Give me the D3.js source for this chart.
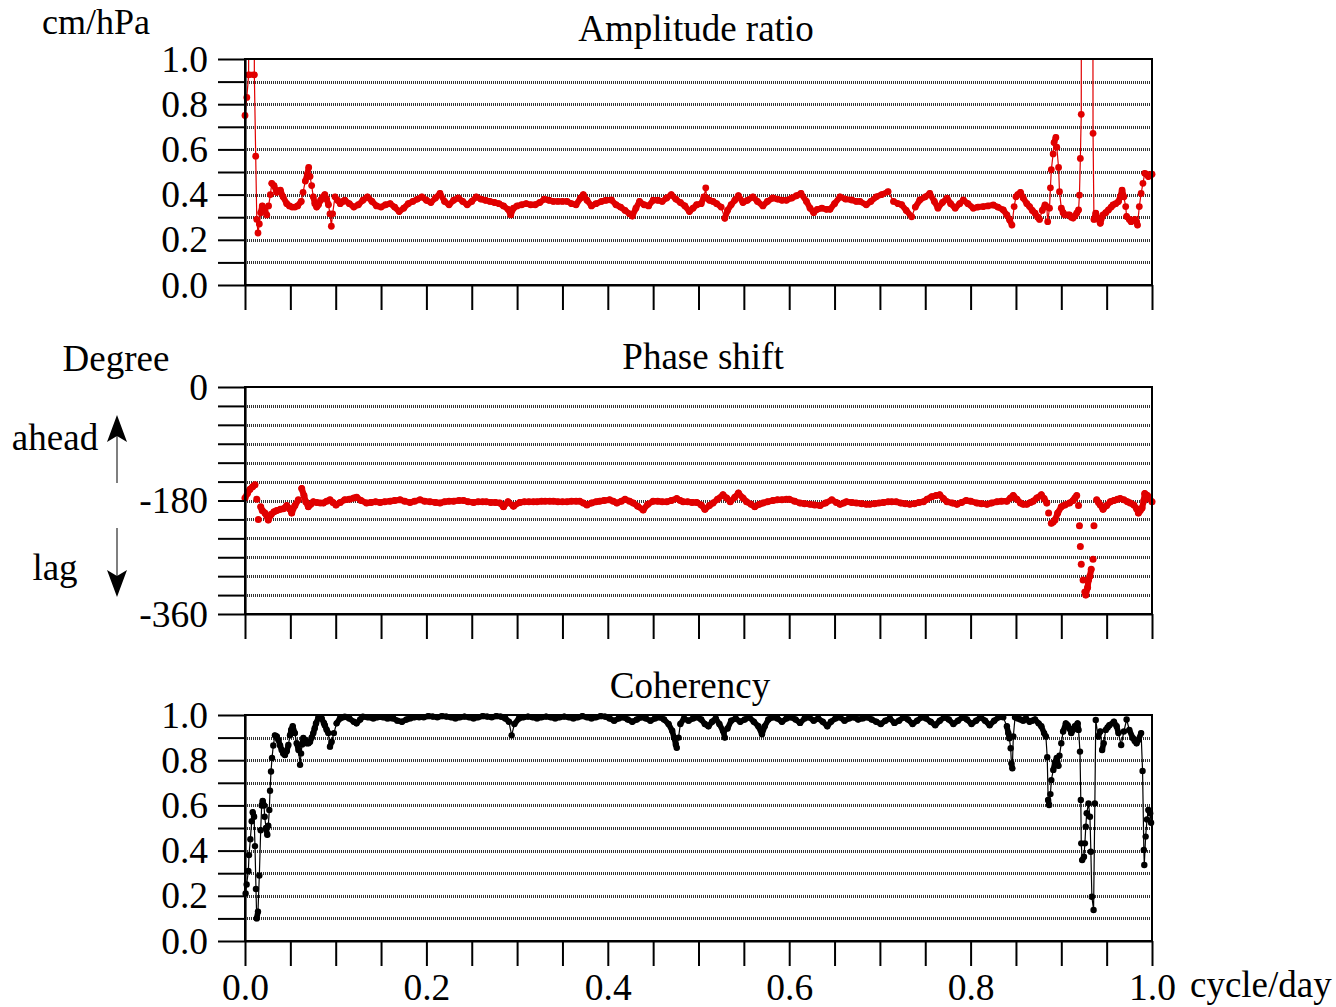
<!DOCTYPE html>
<html><head><meta charset="utf-8">
<script src="https://cdn.jsdelivr.net/npm/d3@7"></script>
<style>
body{margin:0;background:#fff}
svg{display:block}
text{font-family:"Liberation Serif","Times New Roman",Times,serif;fill:#000}
</style>
</head><body>
<svg id="chart" width="1336" height="1007"></svg>
<script>
// ---------- tick values / labels ----------
const freqTicks = [0,0.05,0.1,0.15,0.2,0.25,0.3,0.35,0.4,0.45,0.5,0.55,0.6,0.65,0.7,0.75,0.8,0.85,0.9,0.95,1.0];
const freqTickLabels = ["0.0","","","","0.2","","","","0.4","","","","0.6","","","","0.8","","","","1.0"];
const ampTicks = [0,0.1,0.2,0.3,0.4,0.5,0.6,0.7,0.8,0.9,1.0];
const ampTickLabels = ["0.0","","0.2","","0.4","","0.6","","0.8","","1.0"];
const phaseTicks = [0,-30,-60,-90,-120,-150,-180,-210,-240,-270,-300,-330,-360];
const phaseTickLabels = ["0","","","","","","-180","","","","","","-360"];
const cohTicks = [0,0.1,0.2,0.3,0.4,0.5,0.6,0.7,0.8,0.9,1.0];
const cohTickLabels = ["0.0","","0.2","","0.4","","0.6","","0.8","","1.0"];

// ---------- series: [frequency (cycle/day), value] ----------
const amplitude = [
[0,0.75],[0.002,0.83],[0.004,0.93],[0.0045,4],[0.0098,4],[0.0103,0.93],[0.0118,0.57],[0.013,0.29],[0.0143,0.23],[0.0158,0.27],
[0.0173,0.32],[0.019,0.35],[0.021,0.34],[0.024,0.31],[0.026,0.35],[0.028,0.40],[0.0295,0.45],[0.032,0.44],[0.035,0.41],[0.039,0.42],
[0.042,0.39],[0.046,0.36],[0.049,0.35],[0.052,0.345],[0.055,0.345],[0.058,0.35],[0.062,0.37],[0.064,0.41],[0.0665,0.46],[0.0687,0.49],
[0.0702,0.52],[0.0717,0.48],[0.0735,0.44],[0.0753,0.39],[0.077,0.36],[0.079,0.345],[0.081,0.355],[0.0834,0.375],[0.086,0.39],[0.088,0.40],
[0.090,0.38],[0.092,0.355],[0.0937,0.315],[0.0952,0.26],[0.0966,0.315],[0.0992,0.39],[0.102,0.375],[0.105,0.36],[0.108,0.37],[0.110,0.375],
[0.115,0.36],[0.120,0.345],[0.125,0.355],[0.130,0.375],[0.135,0.39],[0.140,0.37],[0.145,0.35],[0.150,0.345],[0.155,0.355],[0.160,0.36],
[0.165,0.345],[0.170,0.325],[0.175,0.34],[0.180,0.36],[0.185,0.37],[0.190,0.38],[0.195,0.39],[0.200,0.375],[0.205,0.365],[0.210,0.385],
[0.215,0.405],[0.220,0.37],[0.225,0.355],[0.230,0.375],[0.235,0.385],[0.240,0.37],[0.245,0.355],[0.250,0.37],[0.255,0.39],[0.260,0.38],
[0.265,0.375],[0.270,0.37],[0.275,0.365],[0.280,0.36],[0.285,0.35],[0.290,0.335],[0.293,0.31],[0.296,0.34],[0.300,0.35],[0.305,0.355],
[0.310,0.36],[0.315,0.355],[0.320,0.355],[0.325,0.365],[0.330,0.38],[0.335,0.375],[0.340,0.37],[0.345,0.37],[0.350,0.37],[0.355,0.37],
[0.360,0.36],[0.365,0.355],[0.370,0.385],[0.373,0.40],[0.377,0.375],[0.382,0.35],[0.387,0.36],[0.393,0.37],[0.398,0.375],[0.404,0.376],
[0.409,0.355],[0.414,0.345],[0.419,0.33],[0.424,0.315],[0.427,0.305],[0.431,0.34],[0.435,0.37],[0.440,0.355],[0.445,0.35],[0.450,0.375],
[0.455,0.375],[0.460,0.37],[0.465,0.385],[0.470,0.40],[0.475,0.38],[0.480,0.365],[0.485,0.35],[0.490,0.325],[0.494,0.34],[0.498,0.355],
[0.503,0.36],[0.506,0.39],[0.508,0.43],[0.509,0.385],[0.512,0.375],[0.516,0.37],[0.520,0.36],[0.525,0.345],[0.529,0.295],[0.532,0.33],
[0.536,0.355],[0.540,0.375],[0.544,0.395],[0.549,0.365],[0.554,0.375],[0.560,0.39],[0.565,0.37],[0.571,0.35],[0.576,0.37],[0.582,0.385],
[0.587,0.38],[0.592,0.375],[0.597,0.375],[0.603,0.385],[0.608,0.395],[0.613,0.405],[0.619,0.37],[0.623,0.34],[0.627,0.32],[0.631,0.335],
[0.636,0.34],[0.641,0.335],[0.645,0.335],[0.650,0.36],[0.656,0.39],[0.662,0.38],[0.669,0.376],[0.674,0.37],[0.678,0.37],[0.685,0.355],
[0.690,0.37],[0.696,0.39],[0.702,0.40],[0.709,0.413],[0.715,0.37],[0.720,0.36],[0.724,0.355],[0.729,0.33],[0.735,0.302],[0.739,0.345],
[0.744,0.376],[0.750,0.39],[0.755,0.405],[0.760,0.37],[0.764,0.34],[0.769,0.365],[0.774,0.384],[0.778,0.36],[0.783,0.34],[0.788,0.36],
[0.792,0.376],[0.797,0.36],[0.803,0.34],[0.808,0.345],[0.814,0.347],[0.819,0.35],[0.825,0.354],[0.830,0.345],[0.836,0.332],[0.840,0.31],
[0.843,0.288],[0.8456,0.265],[0.848,0.347],[0.850,0.39],[0.852,0.40],[0.855,0.41],[0.858,0.385],[0.862,0.36],[0.865,0.347],[0.868,0.33],
[0.871,0.318],[0.874,0.30],[0.876,0.29],[0.879,0.33],[0.882,0.354],[0.884,0.347],[0.885,0.28],[0.887,0.34],[0.888,0.43],[0.889,0.51],
[0.891,0.58],[0.892,0.63],[0.894,0.653],[0.895,0.61],[0.897,0.52],[0.898,0.413],[0.900,0.34],[0.902,0.32],[0.904,0.31],[0.907,0.31],
[0.909,0.31],[0.911,0.30],[0.913,0.296],[0.915,0.305],[0.917,0.318],[0.919,0.332],[0.920,0.398],[0.921,0.56],[0.922,0.755],[0.9226,4],
[0.934,4],[0.935,0.671],[0.936,0.29],[0.938,0.318],[0.940,0.296],[0.943,0.273],[0.946,0.31],[0.949,0.32],[0.952,0.332],[0.955,0.345],
[0.957,0.354],[0.960,0.36],[0.963,0.369],[0.965,0.39],[0.967,0.42],[0.969,0.39],[0.971,0.347],[0.972,0.303],[0.975,0.29],[0.977,0.28],
[0.979,0.285],[0.981,0.29],[0.983,0.28],[0.984,0.265],[0.986,0.347],[0.988,0.405],[0.990,0.45],[0.992,0.494],[0.994,0.49],[0.996,0.48],
[0.998,0.485],[1.000,0.49]
];

const phase = [
[0,-176],[0.0026,-169],[0.0055,-162],[0.0085,-158],[0.011,-155],[0.013,-178],[0.0147,-210],[0.0173,-190],[0.019,-196],[0.022,-200],
[0.0257,-211],[0.029,-202],[0.032,-198],[0.035,-196],[0.039,-194],[0.0423,-193],[0.046,-188],[0.049,-193],[0.0515,-200],[0.055,-188],
[0.0588,-179],[0.0625,-161],[0.065,-172],[0.067,-182],[0.0698,-190],[0.0725,-186],[0.0753,-182],[0.079,-183],[0.083,-184],[0.0864,-184],
[0.090,-181],[0.0937,-179],[0.097,-183],[0.1003,-187],[0.105,-183],[0.110,-179],[0.115,-178],[0.120,-176],[0.1231,-175],[0.128,-180],
[0.134,-184],[0.139,-183],[0.144,-182],[0.149,-183],[0.154,-182],[0.160,-181],[0.165,-180],[0.171,-179],[0.176,-181],[0.182,-183],
[0.187,-181],[0.193,-179],[0.198,-181],[0.204,-182],[0.210,-183],[0.215,-184],[0.220,-182],[0.225,-181],[0.230,-181],[0.236,-180],
[0.241,-180],[0.246,-182],[0.252,-183],[0.257,-182],[0.262,-182],[0.266,-182],[0.271,-183],[0.276,-183],[0.281,-184],[0.285,-190],
[0.290,-182],[0.296,-189],[0.303,-183],[0.308,-182],[0.313,-182],[0.318,-182],[0.322,-182],[0.327,-181],[0.331,-181],[0.336,-181],
[0.340,-181],[0.345,-182],[0.350,-182],[0.355,-182],[0.360,-181],[0.365,-181],[0.369,-181],[0.373,-184],[0.377,-187],[0.382,-184],
[0.387,-182],[0.391,-181],[0.396,-180],[0.402,-179],[0.406,-181],[0.410,-184],[0.415,-181],[0.419,-178],[0.424,-181],[0.428,-184],
[0.433,-189],[0.439,-195],[0.444,-186],[0.450,-181],[0.455,-181],[0.460,-182],[0.465,-182],[0.470,-180],[0.476,-177],[0.480,-180],
[0.483,-182],[0.488,-182],[0.493,-183],[0.498,-183],[0.503,-187],[0.507,-194],[0.512,-188],[0.516,-184],[0.521,-178],[0.527,-171],
[0.531,-176],[0.535,-182],[0.540,-175],[0.544,-168],[0.549,-176],[0.553,-182],[0.558,-186],[0.562,-190],[0.567,-186],[0.571,-184],
[0.576,-182],[0.582,-180],[0.587,-179],[0.592,-179],[0.597,-178],[0.600,-178],[0.606,-181],[0.612,-184],[0.617,-185],[0.623,-186],
[0.628,-187],[0.634,-188],[0.640,-184],[0.647,-179],[0.652,-183],[0.656,-186],[0.660,-184],[0.663,-182],[0.669,-183],[0.674,-184],
[0.680,-185],[0.685,-186],[0.689,-186],[0.694,-185],[0.699,-184],[0.704,-183],[0.709,-182],[0.713,-182],[0.718,-182],[0.723,-184],
[0.728,-185],[0.733,-186],[0.738,-185],[0.743,-183],[0.748,-182],[0.752,-178],[0.757,-174],[0.762,-172],[0.766,-171],[0.770,-177],
[0.774,-182],[0.780,-184],[0.785,-186],[0.790,-183],[0.795,-180],[0.800,-181],[0.807,-184],[0.812,-185],[0.818,-186],[0.823,-184],
[0.829,-182],[0.834,-181],[0.840,-181],[0.844,-176],[0.847,-172],[0.851,-178],[0.855,-184],[0.858,-186],[0.862,-186],[0.866,-183],
[0.869,-181],[0.873,-176],[0.878,-171],[0.881,-177],[0.884,-184],[0.886,-200],[0.889,-216],[0.891,-214],[0.893,-211],[0.896,-200],
[0.900,-190],[0.904,-187],[0.909,-184],[0.913,-180],[0.915,-176],[0.917,-172],[0.919,-188],[0.920,-220],[0.921,-253],[0.922,-281],
[0.924,-306],[0.926,-325],[0.927,-330],[0.929,-318],[0.930,-306],[0.9315,-300],[0.933,-289],[0.935,-273],[0.936,-220],[0.939,-179],
[0.941,-183],[0.943,-187],[0.946,-194],[0.950,-188],[0.954,-182],[0.958,-180],[0.962,-178],[0.965,-177],[0.969,-179],[0.973,-182],
[0.976,-184],[0.980,-187],[0.983,-193],[0.985,-200],[0.987,-196],[0.989,-192],[0.991,-180],[0.992,-169],[0.995,-172],[0.997,-177],
[1.000,-182]
];

const coherency = [
[0.0007,0.21],[0.0018,0.25],[0.0037,0.31],[0.0044,0.38],[0.0059,0.45],[0.0074,0.53],[0.0085,0.57],[0.010,0.55],[0.011,0.42],[0.0121,0.23],
[0.0129,0.10],[0.0143,0.13],[0.0158,0.29],[0.0173,0.49],[0.0184,0.60],[0.0195,0.62],[0.021,0.60],[0.0217,0.55],[0.0232,0.50],[0.0246,0.47],
[0.0257,0.51],[0.0268,0.58],[0.0276,0.665],[0.0287,0.75],[0.0298,0.81],[0.0312,0.865],[0.033,0.91],[0.035,0.905],[0.0368,0.89],[0.0387,0.865],
[0.0405,0.845],[0.0422,0.83],[0.044,0.823],[0.046,0.84],[0.0478,0.867],[0.0496,0.91],[0.051,0.935],[0.0526,0.95],[0.055,0.92],[0.057,0.875],
[0.059,0.845],[0.0607,0.78],[0.0618,0.83],[0.063,0.87],[0.0643,0.898],[0.066,0.89],[0.068,0.875],[0.070,0.875],[0.0717,0.882],[0.0735,0.90],
[0.0753,0.92],[0.0768,0.94],[0.0783,0.963],[0.081,0.99],[0.0845,0.985],[0.087,0.965],[0.088,0.955],[0.090,0.935],[0.0919,0.92],[0.0937,0.86],
[0.0955,0.882],[0.098,0.92],[0.101,0.963],[0.1047,0.985],[0.108,0.99],[0.110,0.992],[0.115,0.985],[0.120,0.97],[0.123,0.963],[0.127,0.98],
[0.130,0.992],[0.135,0.99],[0.1415,0.985],[0.146,0.99],[0.152,0.99],[0.157,0.985],[0.1635,0.985],[0.168,0.975],[0.173,0.97],[0.178,0.98],
[0.182,0.985],[0.187,0.99],[0.192,0.99],[0.197,0.99],[0.202,0.995],[0.207,0.993],[0.212,0.99],[0.217,0.995],[0.222,0.993],[0.227,0.99],
[0.232,0.985],[0.237,0.99],[0.242,0.993],[0.247,0.99],[0.252,0.985],[0.257,0.99],[0.262,0.995],[0.267,0.993],[0.272,0.99],[0.277,0.995],
[0.282,0.993],[0.287,0.985],[0.291,0.97],[0.294,0.91],[0.297,0.96],[0.302,0.985],[0.307,0.99],[0.312,0.993],[0.317,0.99],[0.322,0.985],
[0.327,0.99],[0.332,0.993],[0.337,0.99],[0.342,0.985],[0.347,0.99],[0.352,0.993],[0.357,0.99],[0.362,0.985],[0.367,0.99],[0.372,0.995],
[0.377,0.99],[0.382,0.985],[0.387,0.99],[0.392,0.995],[0.397,0.993],[0.402,0.985],[0.407,0.975],[0.412,0.985],[0.417,0.99],[0.422,0.98],
[0.427,0.97],[0.432,0.98],[0.437,0.99],[0.442,0.985],[0.447,0.975],[0.452,0.985],[0.457,0.99],[0.462,0.98],[0.467,0.96],[0.471,0.93],
[0.473,0.90],[0.475,0.87],[0.476,0.855],[0.478,0.90],[0.480,0.96],[0.484,0.985],[0.489,0.975],[0.494,0.985],[0.499,0.99],[0.503,0.98],
[0.507,0.96],[0.511,0.95],[0.515,0.97],[0.519,0.985],[0.523,0.96],[0.527,0.93],[0.529,0.90],[0.532,0.94],[0.536,0.975],[0.541,0.985],
[0.546,0.97],[0.551,0.98],[0.556,0.99],[0.561,0.97],[0.566,0.95],[0.570,0.915],[0.573,0.95],[0.577,0.98],[0.582,0.99],[0.587,0.985],
[0.592,0.97],[0.597,0.985],[0.602,0.99],[0.607,0.98],[0.612,0.965],[0.617,0.985],[0.622,0.99],[0.627,0.975],[0.632,0.985],[0.637,0.97],
[0.642,0.95],[0.646,0.97],[0.651,0.985],[0.656,0.99],[0.661,0.975],[0.666,0.985],[0.671,0.99],[0.676,0.98],[0.681,0.985],[0.686,0.99],
[0.691,0.98],[0.696,0.97],[0.701,0.96],[0.706,0.975],[0.711,0.985],[0.716,0.965],[0.721,0.975],[0.726,0.99],[0.731,0.98],[0.736,0.96],
[0.741,0.975],[0.746,0.99],[0.751,0.985],[0.756,0.97],[0.761,0.955],[0.766,0.975],[0.771,0.99],[0.776,0.98],[0.781,0.96],[0.786,0.975],
[0.791,0.99],[0.796,0.98],[0.801,0.96],[0.806,0.975],[0.811,0.99],[0.816,0.975],[0.821,0.955],[0.826,0.975],[0.831,0.99],[0.836,0.99],
[0.840,0.95],[0.8416,0.92],[0.8427,0.897],[0.8442,0.853],[0.845,0.786],[0.846,0.764],[0.8471,0.905],[0.849,0.99],[0.852,0.985],[0.855,0.98],
[0.858,0.975],[0.861,0.985],[0.865,0.97],[0.868,0.975],[0.871,0.98],[0.875,0.963],[0.878,0.95],[0.881,0.92],[0.883,0.905],[0.8845,0.813],
[0.8855,0.624],[0.8866,0.602],[0.888,0.65],[0.889,0.712],[0.8912,0.757],[0.893,0.79],[0.895,0.81],[0.8969,0.775],[0.898,0.82],[0.900,0.875],
[0.902,0.927],[0.905,0.963],[0.907,0.955],[0.909,0.94],[0.911,0.92],[0.913,0.935],[0.915,0.95],[0.918,0.963],[0.919,0.934],[0.9206,0.838],
[0.9215,0.624],[0.922,0.432],[0.923,0.358],[0.925,0.373],[0.926,0.432],[0.927,0.506],[0.928,0.565],[0.930,0.609],[0.9316,0.55],[0.9326,0.395],
[0.9337,0.196],[0.9356,0.137],[0.937,0.609],[0.938,0.978],[0.9405,0.905],[0.943,0.927],[0.945,0.845],[0.9467,0.875],[0.949,0.934],[0.951,0.945],
[0.953,0.955],[0.958,0.97],[0.961,0.95],[0.963,0.92],[0.966,0.867],[0.969,0.927],[0.972,0.98],[0.975,0.934],[0.979,0.897],[0.981,0.885],
[0.983,0.875],[0.985,0.89],[0.988,0.92],[0.9896,0.752],[0.991,0.403],[0.9915,0.336],[0.993,0.462],[0.9945,0.538],[0.996,0.58],[0.998,0.565],
[0.999,0.523]
];

// ---------- drawing ----------
const svg = d3.select("#chart");
const LEFT = 245, RIGHT = 1152;
const x = d3.scaleLinear().domain([0, 1]).range([LEFT, RIGHT]);
const RED = "#e00000";
const FONT = '"Liberation Serif","Times New Roman",serif';

function panel(cfg) {
  const y = d3.scaleLinear().domain(cfg.domain).range([cfg.bottom, cfg.top]);
  const g = svg.append("g");
  const clipId = "clip" + cfg.id;
  svg.append("clipPath").attr("id", clipId).append("rect")
    .attr("x", LEFT - 6).attr("y", cfg.top - 6).attr("width", RIGHT - LEFT + 12).attr("height", cfg.bottom - cfg.top + 12);
  const lineClipId = "lclip" + cfg.id;
  svg.append("clipPath").attr("id", lineClipId).append("rect")
    .attr("x", LEFT).attr("y", cfg.top).attr("width", RIGHT - LEFT).attr("height", cfg.bottom - cfg.top);

  // grid
  const inner = cfg.ticks.filter(t => t !== cfg.domain[0] && t !== cfg.domain[1]);
  g.selectAll("line.grid").data(inner).join("line").attr("class", "grid")
    .attr("x1", LEFT).attr("x2", RIGHT)
    .attr("y1", d => Math.round(y(d)) + 0.5).attr("y2", d => Math.round(y(d)) + 0.5)
    .attr("stroke", "#333").attr("stroke-width", 3).attr("stroke-dasharray", "1 1");

  // data: thin connecting line
  if (cfg.line) {
    g.append("path").datum(cfg.data)
      .attr("clip-path", `url(#${lineClipId})`)
      .attr("fill", "none").attr("stroke", cfg.color).attr("stroke-width", 1.2)
      .attr("d", d3.line().x(d => x(d[0])).y(d => y(d[1])));
  }
  // overlapping dot bands: join neighbouring dots that nearly touch (not on steep drops)
  const shown = cfg.data.filter(d => d[1] >= cfg.domain[0] && d[1] <= cfg.domain[1]);
  const pairs = d3.pairs(shown).filter(([a, b]) => {
    const dx = x(b[0]) - x(a[0]), dy = y(b[1]) - y(a[1]);
    return Math.hypot(dx, dy) < 11 && Math.abs(dy) < 8.5;
  });
  const dg = g.append("g").attr("clip-path", `url(#${clipId})`);
  dg.selectAll("line").data(pairs).join("line")
    .attr("x1", d => x(d[0][0])).attr("y1", d => y(d[0][1]))
    .attr("x2", d => x(d[1][0])).attr("y2", d => y(d[1][1]))
    .attr("stroke", cfg.color).attr("stroke-width", cfg.r * 1.75).attr("stroke-linecap", "round");
  dg.selectAll("circle").data(shown).join("circle")
    .attr("cx", d => x(d[0])).attr("cy", d => y(d[1])).attr("r", cfg.r).attr("fill", cfg.color);

  // frame
  g.append("rect").attr("x", LEFT).attr("y", cfg.top).attr("width", RIGHT - LEFT).attr("height", cfg.bottom - cfg.top)
    .attr("fill", "none").attr("stroke", "#000").attr("stroke-width", 2);

  // axes
  const ya = g.append("g").attr("transform", `translate(${LEFT},0)`)
    .call(d3.axisLeft(y).tickValues(cfg.ticks).tickSize(27).tickSizeOuter(0).tickPadding(10)
      .tickFormat((d, i) => cfg.tickLabels[i]));
  const xa = g.append("g").attr("transform", `translate(0,${cfg.bottom})`)
    .call(d3.axisBottom(x).tickValues(freqTicks).tickSize(25).tickSizeOuter(0).tickPadding(7)
      .tickFormat((d, i) => cfg.xLabels ? freqTickLabels[i] : ""));
  [ya, xa].forEach(a => {
    a.select(".domain").attr("stroke", "#000").attr("stroke-width", 2.2);
    a.selectAll(".tick line").attr("stroke", "#000").attr("stroke-width", 2);
    a.selectAll(".tick text").attr("font-size", 37.5).attr("fill", "#000").attr("font-family", FONT);
  });

  // title
  svg.append("text").attr("x", cfg.titleX).attr("y", cfg.titleY).attr("text-anchor", "middle")
    .attr("font-size", 37).text(cfg.title);
}

panel({id: 1, top: 59, bottom: 285, domain: [0, 1], ticks: ampTicks, tickLabels: ampTickLabels,
  data: amplitude, line: true, color: RED, r: 3.4, title: "Amplitude ratio", titleX: 696, titleY: 41});
panel({id: 2, top: 387, bottom: 614, domain: [-360, 0], ticks: phaseTicks, tickLabels: phaseTickLabels,
  data: phase, line: false, color: RED, r: 3.5, title: "Phase shift", titleX: 703, titleY: 369});
panel({id: 3, top: 715, bottom: 941, domain: [0, 1], ticks: cohTicks, tickLabels: cohTickLabels,
  data: coherency, line: true, color: "#000", r: 3.2, title: "Coherency", titleX: 690, titleY: 698, xLabels: true});

// axis unit labels
svg.append("text").attr("x", 96).attr("y", 34).attr("text-anchor", "middle").attr("font-size", 36).text("cm/hPa");
svg.append("text").attr("x", 116).attr("y", 371).attr("text-anchor", "middle").attr("font-size", 37).text("Degree");
svg.append("text").attr("x", 55).attr("y", 450).attr("text-anchor", "middle").attr("font-size", 37).text("ahead");
svg.append("text").attr("x", 55).attr("y", 580).attr("text-anchor", "middle").attr("font-size", 37).text("lag");
svg.append("text").attr("x", 1190).attr("y", 997).attr("text-anchor", "start").attr("font-size", 37).text("cycle/day");

// arrows
svg.append("line").attr("x1", 117).attr("x2", 117).attr("y1", 483).attr("y2", 436)
  .attr("stroke", "#555").attr("stroke-width", 1.5);
svg.append("path").attr("d", "M117,415 L107,442 L117,436 L127,442 Z").attr("fill", "#000");
svg.append("line").attr("x1", 117).attr("x2", 117).attr("y1", 528).attr("y2", 576)
  .attr("stroke", "#555").attr("stroke-width", 1.5);
svg.append("path").attr("d", "M117,597 L107,570 L117,576 L127,570 Z").attr("fill", "#000");
</script>
</body></html>
